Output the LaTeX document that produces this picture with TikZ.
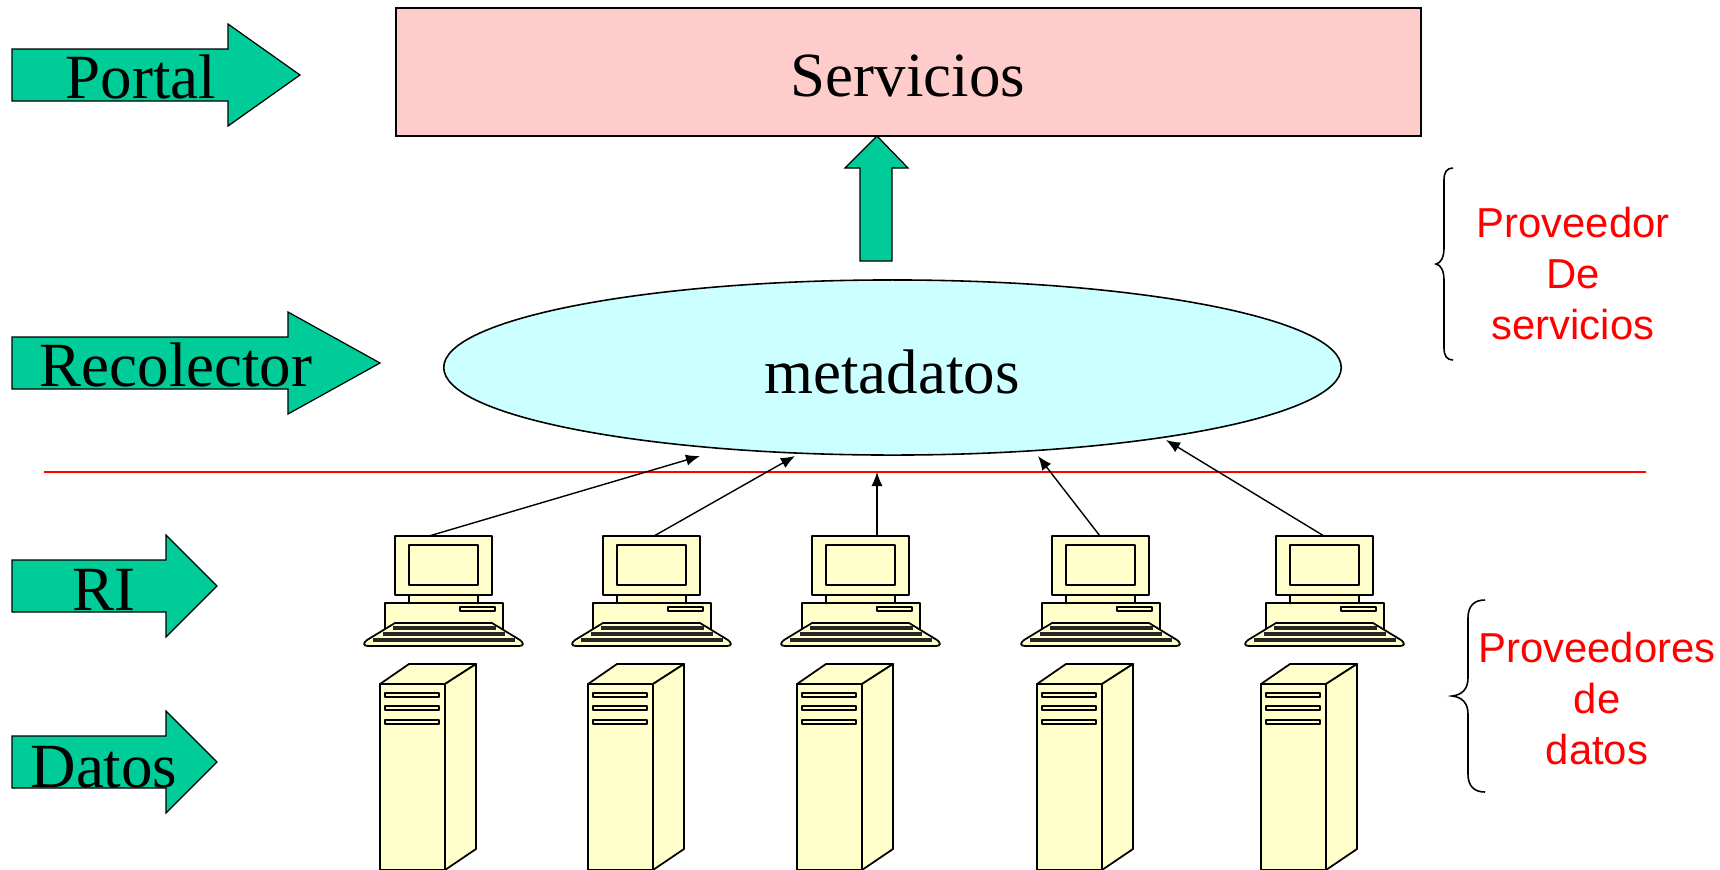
\documentclass[tikz,border=0pt]{standalone}
\usepackage{fontspec}
\setmainfont{Liberation Serif}
\newfontfamily\rojofont{Liberation Sans}
\usetikzlibrary{arrows.meta,shapes.geometric}
\definecolor{verde}{HTML}{00CC99}
\definecolor{rosa}{HTML}{FFCCCC}
\definecolor{celeste}{HTML}{CCFFFF}
\definecolor{crema}{HTML}{FFFFCC}
\tikzset{
	flecha/.style={draw=black,line width=.35pt,fill=verde},
	equipo/.style={draw=black,line width=.5pt,fill=crema,line join=round},
	titulo/.style={inner sep=0pt,anchor=base,font=\fontsize{17.9}{20}\selectfont},
	rojo/.style={inner sep=0pt,anchor=center,align=center,text=red,font=\rojofont\fontsize{11.9}{14.5}\selectfont},
	llave/.style={draw=black,line width=.45pt},
	enlace/.style={draw=black,line width=.4pt,-{Latex[length=4pt,width=3.2pt]}}
}

\begin{document}
\begin{tikzpicture}[x=.01cm,y=-.01cm]
		\useasboundingbox (0,0) rectangle (1720,869);
		% flechas de la izquierda
		\foreach \y/\xc/\xp in {75/228/300,363/288/380,586/166/217,762/166/217}
		\draw[flecha] (12,\y-26) -- (\xc,\y-26) -- (\xc,\y-51) -- (\xp,\y) -- (\xc,\y+51) -- (\xc,\y+26) -- (12,\y+26) -- cycle;
		\node[titulo] (portal) at (141,98) {Portal};
		\node[titulo] (recolector) at (176,386) {Recolector};
		\node[titulo] (ri) at (104,610) {RI};
		\node[titulo] (datos) at (104,787) {Datos};
		% servicios y metadatos
		\draw[line width=.45pt,fill=rosa] (396,8) rectangle (1421,136);
		\node[titulo] (servicios) at (908,96.5) {Servicios};
		\node[draw,line width=.45pt,fill=celeste,ellipse,minimum width=8.97cm,minimum height=1.75cm,inner sep=0pt] (meta) at (892.5,367.5) {};
		\node[titulo] (metadatos) at (892,393) {metadatos};
		\draw[flecha] (860,261) -- (860,168) -- (845,168) -- (877,136) -- (908,168) -- (892,168) -- (892,261) -- cycle;
		\draw[red,line width=.35pt] (44,472) -- (1646,472);
		% equipos
		\foreach \n/\x/\a/\ex/\ey in {1/0/429/700/456,2/208/654/795/456,3/417/877/877/472,4/657/1100/1038/456,5/881/1324/1166/440} {
			\begin{scope}[xshift=\x*.01cm]
				\draw[equipo] (409,595) rectangle (478,603);
				\draw[equipo] (385,603) rectangle (503,632);
				\draw[equipo] (460,607) rectangle (495,611);
				\draw[equipo] (395,536) rectangle (492,595);
				\draw[equipo] (409,545) rectangle (478,585);
				\draw[equipo] (395,623) -- (492,623) -- (520,640) .. controls (524,643) and (524,646) .. (519,646) -- (368,646) .. controls (363,646) and (363,643) .. (367,640) -- cycle;
				\draw[line width=.9pt,black!85] (393,628) -- (496,628);
				\draw[line width=.9pt,black!85] (383,634) -- (505,634);
				\draw[line width=.9pt,black!85] (373,640) -- (515,640);
				\draw[equipo] (380,684) -- (409,664) -- (476,664) -- (445,684) -- cycle;
				\draw[equipo] (445,684) -- (476,664) -- (476,849) -- (445,870) -- cycle;
				\draw[equipo] (380,684) rectangle (445,870);
				\foreach \s in {693,706,720}
				\draw[equipo] (385,\s) rectangle (439,\s+4);
			\end{scope}
			\coordinate (pc\n) at (\a,536);
			\coordinate (fin\n) at (\ex,\ey);
			\draw[enlace] (pc\n) -- (fin\n);
		}
		% llaves
		\draw[llave] (1453,168) .. controls (1447,168) and (1444,172) .. (1444,180) -- (1444,248) .. controls (1444,257) and (1441,263) .. (1436,264) .. controls (1441,265) and (1444,271) .. (1444,280) -- (1444,348) .. controls (1444,356) and (1447,360) .. (1453,360);
		\draw[llave] (1485,600) .. controls (1474,600) and (1468,606) .. (1468,618) -- (1468,678) .. controls (1468,689) and (1462,695) .. (1452,696) .. controls (1462,697) and (1468,703) .. (1468,714) -- (1468,774) .. controls (1468,786) and (1474,792) .. (1485,792);
		\node[rojo] (provserv) at (1573,274) {Proveedor\\De\hspace*{.25em}\\servicios};
		\node[rojo] (provdat) at (1597,699) {Proveedores\\de\hspace*{.33em}\\datos};
	\end{tikzpicture}
\end{document}
